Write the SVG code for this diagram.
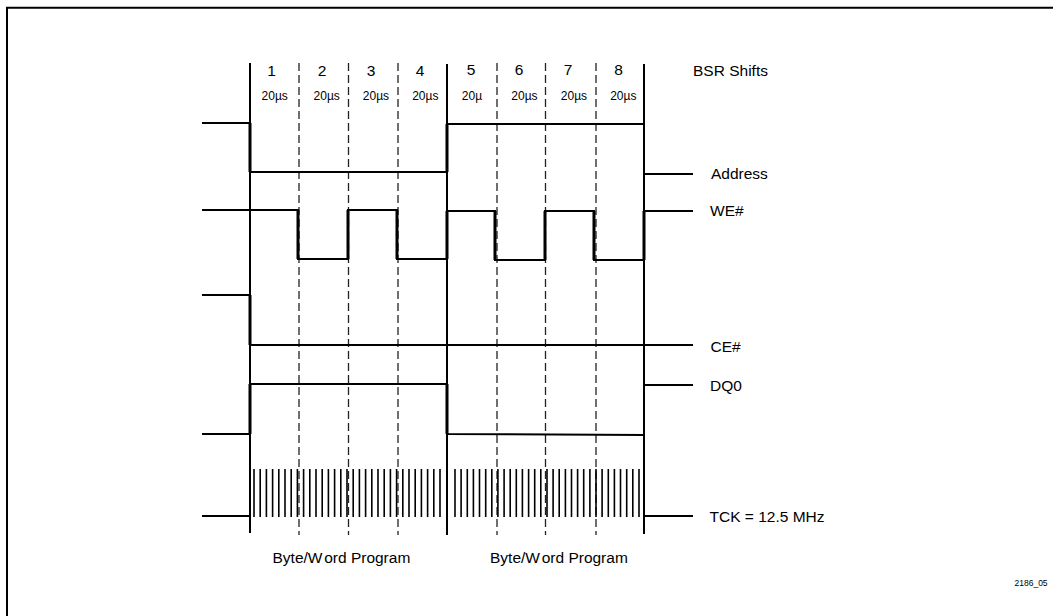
<svg xmlns="http://www.w3.org/2000/svg" width="1053" height="616" viewBox="0 0 1053 616">
<style>
text{font-family:"Liberation Sans",Arial,sans-serif;fill:#000}
.num{font-size:15.5px;text-anchor:middle}
.us{font-size:12px;text-anchor:middle}
.lbl{font-size:15.5px}
.sig{fill:none;stroke:#000;stroke-width:2}
.edge{fill:none;stroke:#000;stroke-width:3}
.solid{stroke:#000;stroke-width:2}
.dash{stroke:#222;stroke-width:1.3;stroke-dasharray:8,4}
.tick{stroke:#000;stroke-width:1.6}
</style>
<rect width="1053" height="616" fill="#fff"/>
<path d="M7,620 V7.7 H1060" fill="none" stroke="#000" stroke-width="2"/>
<g id="grid">
<line class="solid" x1="250" y1="63" x2="250" y2="533"/>
<line class="solid" x1="447" y1="64" x2="447" y2="535"/>
<line class="solid" x1="644" y1="64" x2="644" y2="534"/>
<line class="dash" x1="299" y1="63" x2="299" y2="535"/>
<line class="dash" x1="348.5" y1="63" x2="348.5" y2="535"/>
<line class="dash" x1="398" y1="63" x2="398" y2="535"/>
<line class="dash" x1="497" y1="63" x2="497" y2="535"/>
<line class="dash" x1="545.5" y1="63" x2="545.5" y2="535"/>
<line class="dash" x1="596" y1="63" x2="596" y2="535"/>
</g>
<g id="header">
<text class="num" x="271.5" y="76">1</text>
<text class="num" x="322" y="76">2</text>
<text class="num" x="371" y="76">3</text>
<text class="num" x="420" y="76">4</text>
<text class="num" x="471" y="74.5">5</text>
<text class="num" x="519" y="75">6</text>
<text class="num" x="568" y="75">7</text>
<text class="num" x="618.5" y="75">8</text>
<text class="us" x="274.7" y="99.5">20µs</text>
<text class="us" x="326.7" y="99.5">20µs</text>
<text class="us" x="376" y="99.5">20µs</text>
<text class="us" x="425.3" y="99.5">20µs</text>
<text class="us" x="472" y="99.5">20µ</text>
<text class="us" x="524.5" y="99.5">20µs</text>
<text class="us" x="574" y="99.5">20µs</text>
<text class="us" x="623.3" y="99.5">20µs</text>
<text class="lbl" x="693" y="76">BSR Shifts</text>
</g>
<g id="connectors">
<g id="address">
<path class="sig" d="M202,123 H250 V172 H447 V124 H644 V174 H693"/>
<path class="edge" d="M250,123 V172 M447,172 V124"/>
</g>
<g id="we">
<path class="sig" d="M202,210 H298 V259 H348 V210 H397 V259 H447 V211 H495 V260 H545 V211 H594 V260 H644 V211 H693"/>
<path class="edge" d="M298,210 V259 M348,259 V210 M397,210 V259 M447,259 V211 M495,211 V260 M545,260 V211 M594,211 V260 M644,260 V211"/>
</g>
<g id="ce">
<path class="sig" d="M202,295 H250 V345 H693"/>
<path class="edge" d="M250,295 V345"/>
</g>
<g id="dq0">
<path class="sig" d="M202,434 H250 V384 H447 V434 L644,435 V385 H693"/>
<path class="edge" d="M250,434 V384 M447,384 V434"/>
</g>
<g id="tck">
<path class="sig" d="M202,516 H250 M644,516 H693"/>
<path class="tick" d="M254,469 V517 M260.2,469 V517 M266.4,469 V517 M272.6,469 V517 M278.8,469 V517 M285,469 V517 M291.2,469 V517 M297.4,469 V517 M303.6,469 V517 M309.8,469 V517 M316,469 V517 M322.2,469 V517 M328.4,469 V517 M334.6,469 V517 M340.8,469 V517 M347,469 V517 M353.2,469 V517 M359.4,469 V517 M365.6,469 V517 M371.8,469 V517 M378,469 V517 M384.2,469 V517 M390.4,469 V517 M396.6,469 V517 M402.8,469 V517 M409,469 V517 M415.2,469 V517 M421.4,469 V517 M427.6,469 V517 M433.8,469 V517 M440,469 V517"/>
<path class="tick" d="M455,469 V517 M461.1,469 V517 M467.3,469 V517 M473.4,469 V517 M479.5,469 V517 M485.7,469 V517 M491.8,469 V517 M497.9,469 V517 M504.1,469 V517 M510.2,469 V517 M516.3,469 V517 M522.4,469 V517 M528.6,469 V517 M534.7,469 V517 M540.8,469 V517 M547,469 V517 M553.1,469 V517 M559.2,469 V517 M565.4,469 V517 M571.5,469 V517 M577.6,469 V517 M583.7,469 V517 M589.9,469 V517 M596,469 V517 M602.1,469 V517 M608.3,469 V517 M614.4,469 V517 M620.5,469 V517 M626.7,469 V517 M632.8,469 V517 M639,469 V517"/>
</g>
</g>
<g id="labels">
<text class="lbl" x="711" y="179">Address</text>
<text class="lbl" x="710" y="216">WE#</text>
<text class="lbl" x="710.5" y="352">CE#</text>
<text class="lbl" x="710" y="391">DQ0</text>
<text class="lbl" x="709.5" y="522">TCK = 12.5 MHz</text>
<text class="lbl" x="272.5" y="563">Byte/W<tspan dx="2">ord Program</tspan></text>
<text class="lbl" x="490" y="563">Byte/W<tspan dx="2">ord Program</tspan></text>
<text x="1014.5" y="585.5" style="font-size:8.5px">2186_05</text>
</g>
</svg>
